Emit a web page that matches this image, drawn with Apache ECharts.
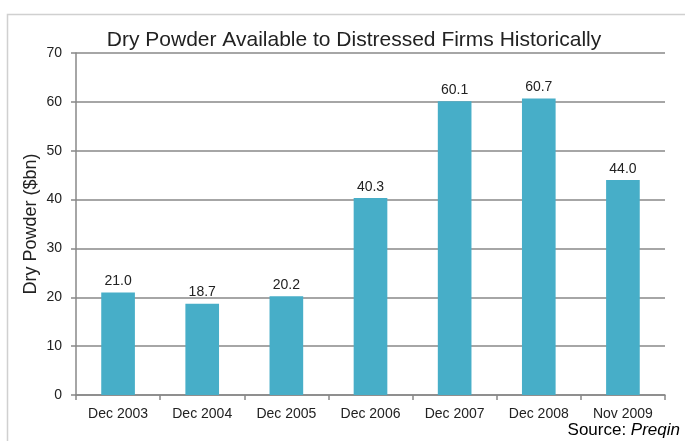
<!DOCTYPE html>
<html>
<head>
<meta charset="utf-8">
<script src="https://cdn.jsdelivr.net/npm/echarts@6/dist/echarts.min.js"></script>
<style>
  html, body { margin: 0; padding: 0; background: #fff; }
  #chart { width: 685px; height: 441px; }
</style>
</head>
<body>
<div id="chart"></div>
<script>
const categories = ["Dec 2003", "Dec 2004", "Dec 2005", "Dec 2006", "Dec 2007", "Dec 2008", "Nov 2009"];
const dryPowder = [21.0, 18.7, 20.2, 40.3, 60.1, 60.7, 44.0];
const yTicks = [0, 10, 20, 30, 40, 50, 60, 70];

const chart = echarts.init(document.getElementById("chart"));

const option = {
  animation: false,
  textStyle: { fontFamily: "Liberation Sans, Arial, sans-serif" },
  title: {
    text: "Dry Powder Available to Distressed Firms Historically",
    left: 349,
    top: 25,
    textAlign: "center",
    textStyle: { fontSize: 21, fontWeight: "normal", color: "#222" },
  },
  graphic: [
    {
      type: "rect",
      shape: { x: 7.5, y: 14.5, width: 700, height: 460 },
      style: { fill: "none", stroke: "#d0d0d0", lineWidth: 1.5 },
      silent: true,
    },
    {
      // y axis title
      type: "text",
      x: 31,
      y: 224,
      rotation: Math.PI / 2,
      style: {
        text: "Dry Powder ($bn)",
        fontSize: 18,
        fill: "#222",
        align: "center",
        verticalAlign: "middle",
        fontFamily: "Liberation Sans, Arial, sans-serif",
      },
    },
    {
      type: "text",
      right: 5,
      top: 422,
      style: {
        text: "{n|Source: }{i|Preqin}",
        rich: {
          n: { fontSize: 17, color: "#222", fontFamily: "Liberation Sans, Arial, sans-serif" },
          i: { fontSize: 17, color: "#222", fontStyle: "italic", fontFamily: "Liberation Sans, Arial, sans-serif" },
        },
      },
    },
  ],
  grid: { left: 76, right: 20, top: 53, bottom: 46 },
  xAxis: {
    type: "category",
    data: categories,
    axisLine: { lineStyle: { color: "#888", width: 1.5 } },
    axisTick: { show: true, length: 5, lineStyle: { color: "#888", width: 1.5 } },
    axisLabel: { color: "#222", fontSize: 14, margin: 12 },
  },
  yAxis: {
    type: "value",
    min: yTicks[0],
    max: yTicks[yTicks.length - 1],
    interval: 10,
    axisLine: { show: true, lineStyle: { color: "#888", width: 1.5 } },
    axisTick: { show: true, length: 5, lineStyle: { color: "#888", width: 1.5 } },
    axisLabel: { color: "#222", fontSize: 14, margin: 14 },
    splitLine: { lineStyle: { color: "#888", width: 1.5 } },
  },
  series: [
    {
      type: "bar",
      data: dryPowder,
      barWidth: "40%",
      itemStyle: { color: "#47AEC8" },
      label: {
        show: true,
        position: "top",
        distance: 4,
        color: "#222",
        fontSize: 14,
        formatter: (p) => p.value.toFixed(1),
      },
    },
  ],
};

chart.setOption(option);
</script>
</body>
</html>
